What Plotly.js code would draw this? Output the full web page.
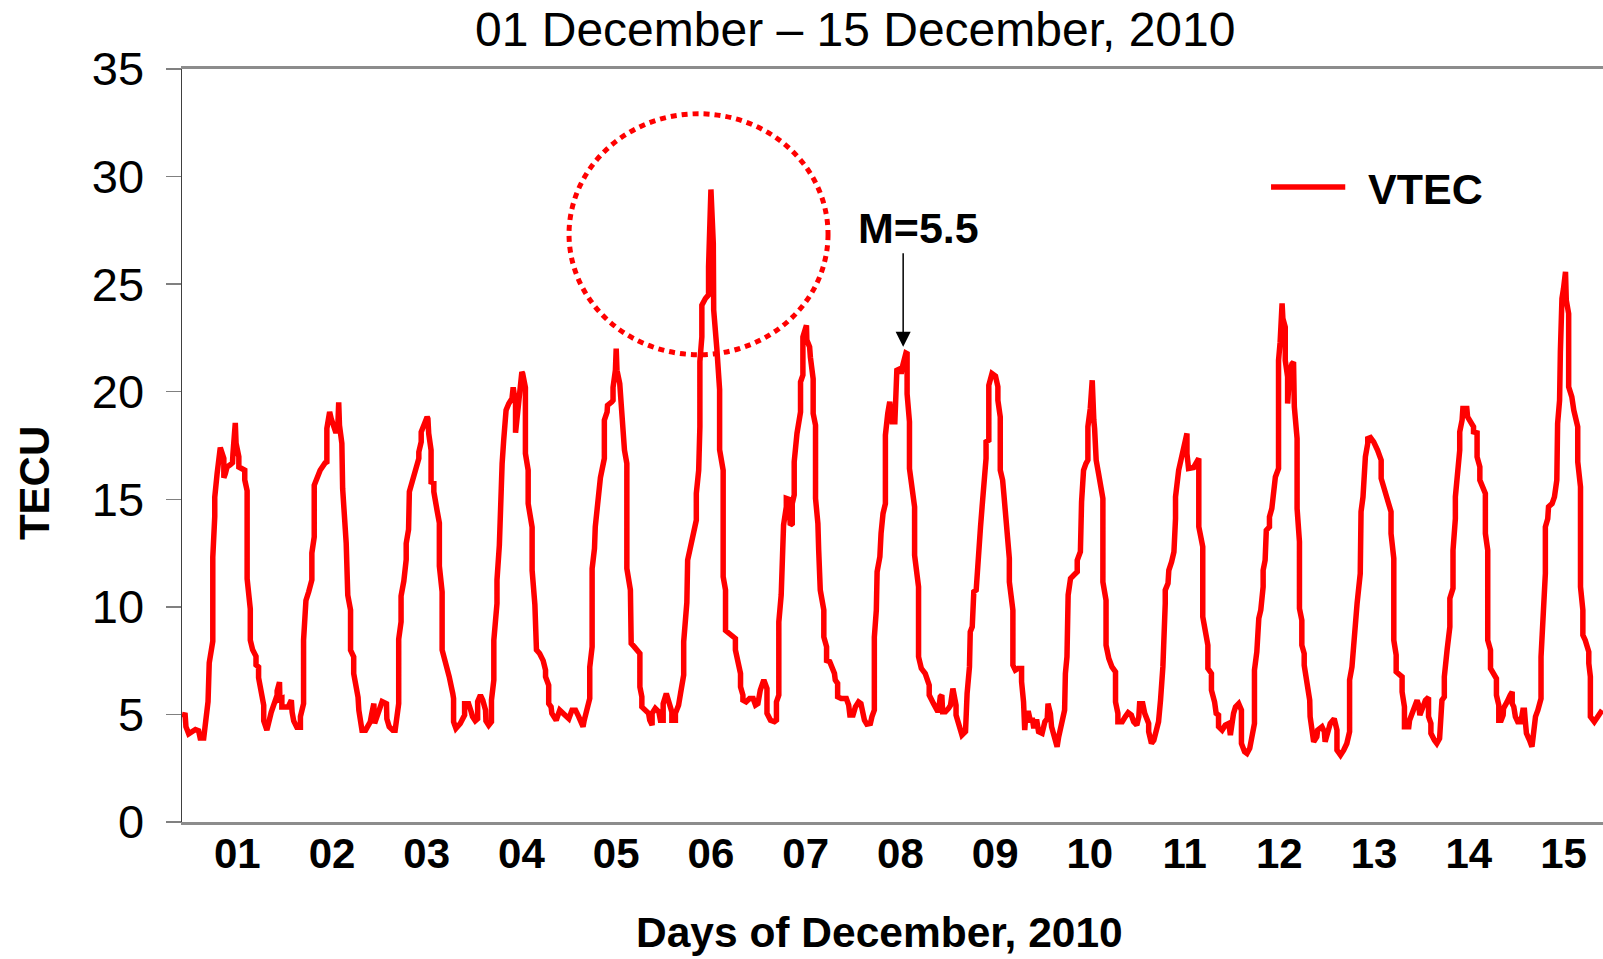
<!DOCTYPE html>
<html>
<head>
<meta charset="utf-8">
<script src="https://cdn.plot.ly/plotly-3.0.1.min.js"></script>
<style>
  html, body { margin: 0; padding: 0; background: #ffffff; }
  #chart { width: 1603px; height: 959px; }
</style>
</head>
<body>
<div id="chart"></div>
<script>
// Hours since 00 UT, 01 December 2010
const hours = [
  0, 0.8, 1.0, 1.7, 3.4, 4.2, 4.6, 5.5, 6.6, 6.9, 7.8, 7.8, 8.3, 8.3, 8.9, 9.5, 9.7, 10.6, 10.6, 11.0,
  11.4, 12.2, 12.8, 12.9, 13.5, 13.7, 14.4, 14.4, 15.2, 15.9, 15.9, 16.5, 16.5, 17.3, 17.3, 17.9, 18.75, 18.75, 19.4, 19.4,
  20.7, 20.7, 21.5, 22.0, 22.6, 22.6, 24.1, 24.1, 24.7, 24.8, 25.3, 25.3, 26.9, 27.7, 27.9, 28.3, 29.1, 30.0, 30.0, 30.8,
  30.8, 31.3, 31.4, 32.1, 32.9, 32.9, 33.5, 33.5, 34.2, 35.0, 36.3, 36.7, 36.7, 37.4, 37.8, 38.7, 39.0, 39.5, 39.7, 39.9,
  40.5, 40.7, 41.6, 42.0, 42.7, 42.7, 43.5, 43.5, 44.6, 44.8, 45.2, 45.6, 46.5, 47.7, 48.1, 48.6, 48.8, 49.0, 50.0, 50.7,
  51.8, 51.9, 52.5, 53.4, 54.0, 54.2, 54.9, 54.9, 55.5, 55.5, 56.2, 56.8, 56.8, 57.4, 57.6, 58.3, 59.1, 60.0, 60.0, 60.6,
  60.6, 61.2, 62.1, 62.3, 62.5, 63.1, 63.1, 63.8, 63.8, 64.6, 65.2, 65.2, 65.9, 65.9, 66.7, 67.7, 68.6, 68.8, 68.8, 69.4,
  70.5, 71.6, 71.6, 72.6, 73.3, 73.6, 74.3, 74.9, 74.9, 75.6, 76.2, 76.9, 77.0, 77.7, 78.4, 78.4, 79.0, 79.0, 79.8, 79.8,
  80.4, 80.7, 81.1, 81.5, 82.1, 82.1, 82.8, 83.2, 83.6, 83.9, 84.5, 84.5, 84.9, 85.5, 86.0, 86.1, 86.3, 87.0, 87.0, 87.7,
  87.7, 88.7, 88.7, 89.4, 89.8,
  90.6, 91.5, 92.1, 92.1, 92.9, 92.9, 93.5, 93.7, 94.8, 95.7, 96.7, 98.0, 98.8, 99.7, 100.5, 100.9, 101.6, 101.9, 103.3, 103.3,
  103.9, 103.9, 104.5, 104.7, 105.3, 106.0, 107.0, 107.0, 107.7, 107.8, 108.9, 109.2, 109.2, 109.8, 110.0, 110.2, 110.9, 111.2, 111.5, 112.1,
  112.1, 112.7, 112.7, 113.6, 113.8, 114.6, 115.3, 116.0, 116.0, 116.5, 116.5, 117.6, 118.2, 118.5, 119.1, 119.1, 119.9, 120.8, 121.2, 121.9,
  121.9, 122.7, 123.3, 124.1, 124.1, 125.0, 125.0, 125.8, 126.3, 127.1, 127.1, 127.5, 127.9, 128.1, 128.8, 129.5, 130.3, 130.3, 130.9, 131.2,
  131.2, 131.7, 131.7, 132.6, 133.4, 133.4, 134.0, 134.6, 134.7, 135.5, 136.2, 136.2, 137.1, 137.1, 137.7, 137.7, 138.8, 140.2, 140.2, 140.8,
  141.5, 141.5, 142.1, 142.1, 142.9, 143.8, 144.7, 145.3, 145.9, 146.5, 147.4, 148.2, 148.2, 149.1, 150.1, 150.6, 150.6, 151.2, 151.2, 151.8,
  152.3, 152.4, 153.1, 153.1, 153.7, 154.1, 154.6, 154.6, 155.1, 155.1, 155.8, 156.7, 156.7, 157.3, 157.3, 157.9, 158.2, 158.3, 159.0, 159.2,
  159.9, 159.9, 160.5, 160.5, 161.1, 161.3, 161.7, 162.6, 162.6, 163.3, 163.3, 164.1, 164.7, 165.3, 165.5, 166.1, 166.1, 167.0, 168.3, 168.9,
  169.2, 170.0, 170.6, 171.4, 172.0, 172.5, 172.9, 173.5, 174.4, 174.8, 175.4, 175.4, 175.9, 176.1, 176.8, 177.1, 177.4, 177.6, 178.2, 178.2,
  178.8, 179.0, 179.3, 179.6, 179.9,
  180.6, 180.7, 181.1, 181.1, 182.0, 182.2, 182.6, 183.4, 183.7, 183.7, 184.3, 184.3, 185.0, 185.6, 185.6, 186.6, 186.6, 187.3, 188.3, 188.8,
  189.3, 189.3, 190.2, 190.4, 191.3, 191.7, 192.1, 192.5, 192.7, 193.4, 194.2, 194.7, 195.3, 195.8, 196.1, 196.1, 196.8, 197.2, 197.6, 198.5,
  198.6, 198.9, 199.5, 199.7, 200.2, 200.6, 200.6, 201.2, 201.7, 202.3, 202.7, 203.4, 203.7, 203.7, 204.4, 204.4, 205.0, 205.2, 206.1, 206.7,
  206.7, 207.3, 207.3, 207.9, 208.2, 209.0, 209.6, 209.6, 210.5, 210.5, 211.1, 211.8, 212.7, 212.7, 213.2, 213.5, 213.8, 214.5, 214.9, 215.5,
  215.8, 216.0, 216.6, 217.0, 217.9, 218.6, 219.2, 219.4, 220.0, 220.3, 221.3, 221.7, 222.1, 222.5, 223.1, 223.6, 223.8, 224.2, 224.5, 225.1,
  225.9, 226.8, 226.8, 227.6, 227.9, 228.2, 228.4, 229.0, 229.5, 229.5, 230.1, 230.6, 230.7, 231.0, 231.2, 231.6, 231.6, 232.2, 232.7, 233.3,
  233.3, 234.1, 234.1, 234.8, 235.6, 236.5, 236.5, 237.1, 237.1, 238.2, 239.0, 239.7, 240.5, 241.1, 241.9, 242.4, 242.6, 243.4, 243.9, 244.5,
  244.9, 244.9, 245.6, 246.2, 246.6, 247.4, 247.9, 248.3, 248.5, 249.1, 249.1, 249.8, 250.0, 250.7, 251.3, 251.7, 251.7, 252.5, 253.4, 254.2,
  254.6, 254.6, 255.0, 255.0, 256.3, 256.7, 257.6, 257.6, 258.6, 258.6, 259.4, 259.9, 259.9, 260.8, 260.8, 261.6, 262.0, 262.6, 262.6, 263.5,
  264.3, 265.2, 265.6, 266.0, 266.4, 266.9, 267.7, 268.4, 268.4, 269.2,
  269.8, 270.5, 271.1, 271.7, 271.7, 272.3, 272.8, 273.3, 273.9, 273.9, 274.4, 274.7, 275.5, 275.5, 276.1, 276.7, 277.0, 277.8, 277.8, 278.2,
  278.4, 278.7, 278.9, 279.5, 279.5, 280.1, 280.1, 280.6, 281.2, 281.6, 281.8, 282.5, 282.5, 283.1, 283.1, 283.7, 283.7, 284.3, 284.3, 285.0,
  285.7, 285.8, 286.3, 286.7, 287.5, 287.7, 288.8, 289.4, 289.6, 290.1, 290.9, 291.9, 292.6, 292.6, 293.5, 294.3, 295.1, 295.8, 295.8, 296.4,
  296.7, 297.7, 298.5, 298.7, 298.7, 299.2, 299.5, 299.8, 300.4, 300.4, 301.1, 301.9, 302.9, 303.8, 303.8, 304.6, 305.7, 306.3, 306.3, 307.0,
  307.0, 307.6, 307.6, 308.5, 309.1, 309.1, 309.7, 309.7, 310.8, 311.0, 311.6, 312.0, 312.5, 312.9, 313.3, 313.6, 314.4, 315.0, 315.8, 315.8,
  316.4, 316.4, 317.3, 317.9, 318.6, 318.8, 319.2, 319.8, 319.8, 320.5, 321.2, 321.2, 322.0, 322.0, 322.6, 322.6, 323.2, 323.7, 323.7, 324.3,
  324.5, 325.5, 325.7, 326.6, 327.2, 327.2, 328.1, 328.1, 328.8, 328.8, 329.6, 330.2, 330.2, 330.8, 330.8, 331.5, 331.5, 332.3, 333.0, 333.0,
  333.6, 333.6, 334.2, 334.7, 334.8, 335.7, 336.1, 336.5, 337.0, 337.0, 337.4, 337.8, 338.4, 339.2, 339.7, 340.1, 340.3, 340.6, 341.4, 342.0,
  342.3, 342.6, 342.9, 343.5, 344.3, 344.3, 344.8, 345.0, 345.4, 345.4, 346.0, 346.2, 347.1, 347.7, 348.3, 348.5, 349.0, 349.2, 349.4, 349.6,
  350.0, 350.5, 350.7, 351.3, 351.3, 352.1, 352.6, 353.0, 353.6, 353.6, 354.3, 354.3, 354.9, 354.9, 355.5, 356.4, 356.4, 356.8, 356.8, 357.8,
  358.9, 359.8
];

// Vertical total electron content (TECU)
const vtec = [
  5.0, 4.97, 4.43, 4.1, 4.3, 4.24, 3.9, 3.9, 5.6, 7.4, 8.4, 12.3, 14.2, 15.1, 16.2, 16.9, 17.4, 16.9, 16.0, 16.2,
  16.5, 16.6, 16.7, 17.1, 18.55, 17.6, 16.97, 16.5, 16.4, 16.35, 15.9, 15.4, 11.3, 9.9, 8.45, 8.0, 7.7, 7.3, 7.2, 6.7,
  5.43, 4.7, 4.27, 4.66, 4.9, 5.1, 5.9, 6.1, 6.5, 5.7, 5.74, 5.35, 5.35, 5.66, 5.1, 4.7, 4.4, 4.4, 4.9, 5.5,
  8.45, 9.85, 10.3, 10.7, 11.25, 12.5, 13.25, 15.65, 16.0, 16.35, 16.7, 16.74, 18.29, 19.06, 18.75, 18.13, 18.09, 18.5, 19.5, 18.44,
  17.6, 15.5, 12.95, 10.54, 9.85, 7.99, 7.68, 6.9, 5.8, 5.2, 4.7, 4.27, 4.27, 4.66, 5.05, 5.5, 4.58, 4.7, 5.2, 5.6,
  5.5, 4.8, 4.43, 4.27, 4.27, 4.7, 5.5, 8.5, 9.3, 10.5, 11.2, 12.2, 12.95, 13.6, 15.35, 15.8, 16.35, 16.9, 17.2, 17.67,
  18.13, 18.44, 18.83, 18.75, 18.06, 17.28, 15.8, 15.76, 15.35, 14.5, 13.9, 11.9, 10.7, 8.0, 7.5, 6.75, 5.97, 5.74, 4.66, 4.35,
  4.58, 4.97, 5.5, 5.5, 5.1, 4.9, 4.7, 4.8, 5.6, 5.9, 5.66, 5.2, 4.7, 4.5, 4.66, 5.66, 6.6, 8.45, 10.16, 11.25,
  12.87, 15.4, 16.66, 17.75, 18.75, 19.14, 19.45, 19.6, 19.68, 20.2, 19.45, 18.09, 18.9, 20.2, 20.7, 20.92, 20.85, 20.2, 17.13, 16.35,
  14.8, 13.7, 11.7, 10.1, 8.0,
  7.83, 7.5, 7.06, 6.75, 6.36, 5.5, 5.35, 5.05, 4.73, 5.2, 5.05, 4.8, 5.2, 5.2, 4.9, 4.66, 4.43, 4.73, 5.74, 7.2,
  8.14, 11.78, 12.71, 13.72, 14.8, 16.0, 16.9, 18.68, 19.06, 19.37, 19.53, 19.6, 20.2, 21.0, 22.0, 21.0, 20.38, 19.6, 18.6, 17.8,
  17.28, 16.66, 11.78, 10.78, 8.3, 8.14, 8.02, 7.83, 6.28, 5.82, 5.35, 5.2, 5.05, 4.73, 4.5, 5.05, 5.28, 5.12, 4.73, 4.73,
  5.5, 5.97, 5.5, 5.12, 4.73, 4.73, 5.05, 5.43, 5.97, 6.83, 8.38, 9.38, 10.2, 12.17, 12.79, 13.41, 14.03, 15.27, 16.35, 18.37,
  21.4, 22.55, 24.02, 24.33, 24.5, 25.8, 29.4, 26.9, 23.8, 22.0, 20.1, 17.3, 16.35, 11.4, 10.78, 8.9, 8.77, 8.53, 8.0, 7.37,
  6.9, 6.28, 5.9, 5.66, 5.58, 5.74, 5.74, 5.43, 5.5, 6.13, 6.6, 6.2, 5.05, 4.73, 4.66, 4.73, 5.58, 5.9, 9.3, 10.55,
  12.63, 13.8, 14.65, 15.04, 15.0, 13.8, 13.87, 14.8, 15.2, 16.74, 18.06, 19.06, 20.45, 20.77, 22.55, 22.98, 23.09, 22.4, 22.08, 21.6,
  20.6, 18.99, 18.44, 15.04, 13.87, 12.63, 10.78, 9.85, 8.6, 8.14, 7.5, 7.45, 7.14, 6.9, 6.6, 6.44, 5.82, 5.74, 5.74, 5.43,
  4.97, 4.97, 5.35, 5.58, 5.5, 5.12, 4.73, 4.55, 4.58, 4.9, 5.2, 8.6, 9.85, 11.63, 12.33, 13.41, 14.18, 14.34, 14.8, 17.98,
  18.99, 19.45, 19.53, 18.99, 18.6,
  18.6, 19.76, 20.38, 21.0, 21.08, 20.84, 21.23, 21.8, 21.77, 19.9, 18.6, 16.43, 15.58, 14.65, 12.4, 10.93, 7.68, 7.14, 6.9, 6.52,
  6.36, 5.9, 5.66, 5.5, 5.2, 5.2, 5.82, 5.9, 5.12, 5.12, 5.28, 5.43, 6.2, 5.82, 5.43, 4.97, 4.58, 4.27, 4.04, 4.2,
  5.2, 5.97, 7.21, 8.84, 9.07, 10.24, 10.7, 10.78, 12.56, 13.72, 14.65, 16.0, 16.9, 17.67, 17.75, 20.3, 20.69, 20.84, 20.72, 20.23,
  19.6, 18.83, 16.35, 15.89, 15.27, 13.57, 12.25, 11.16, 9.85, 7.29, 7.06, 7.14, 7.14, 6.52, 5.58, 4.27, 5.05, 5.05, 4.73, 4.73,
  4.35, 4.66, 4.66, 4.2, 4.12, 4.66, 4.8, 5.5, 5.05, 4.43, 3.88, 3.5, 3.96, 4.27, 4.8, 5.2, 6.9, 7.68, 10.55, 11.32,
  11.47, 11.63, 12.17, 12.56, 14.88, 15.89, 16.35, 16.66, 16.82, 18.37, 19.22, 20.53, 19.3, 18.68, 18.29, 17.13, 16.82, 16.2, 15.58, 15.04,
  11.16, 10.31, 8.22, 7.6, 7.21, 6.98, 5.58, 5.05, 4.66, 4.66, 4.9, 5.08, 4.97, 4.66, 4.5, 4.9, 5.5, 5.5, 5.05, 4.8,
  4.58, 4.2, 3.65, 3.8, 4.2, 4.66, 5.66, 6.44, 7.21, 10.16, 10.78, 11.09, 11.7, 12.09, 12.56, 14.1, 15.11, 16.35, 17.13, 17.67,
  18.06, 17.13, 16.66, 16.43, 16.48, 16.66, 16.9, 13.72, 12.79, 9.54, 8.45, 8.22, 7.14, 6.9, 6.13, 5.58, 5.05, 4.97, 4.43, 4.27,
  4.5, 4.58, 4.04, 4.66, 5.05, 5.35, 5.5, 5.2, 3.65, 3.27,
  3.19, 3.42, 3.96, 4.58, 7.06, 7.91, 9.46, 9.85, 10.93, 11.7, 12.17, 13.56, 13.72, 14.18, 14.57, 15.58, 16.04, 16.43, 21.46, 22.3,
  24.1, 24.1, 23.4, 23.0, 21.46, 20.69, 19.45, 20.84, 21.3, 21.38, 19.3, 17.82, 14.57, 13.02, 9.92, 9.38, 8.22, 7.83, 7.29, 6.44,
  5.66, 4.9, 4.27, 3.73, 3.96, 4.27, 4.43, 4.2, 3.73, 4.12, 4.58, 4.8, 4.27, 3.34, 3.11, 3.34, 3.65, 4.2, 6.6, 7.21,
  8.07, 10.16, 11.55, 13.02, 14.42, 15.11, 15.89, 16.97, 17.6, 17.82, 17.87, 17.67, 17.28, 16.82, 15.97, 15.5, 14.8, 14.42, 13.41, 12.25,
  8.45, 7.76, 6.98, 6.83, 6.75, 6.05, 5.35, 4.43, 4.43, 4.73, 5.05, 5.35, 5.43, 5.66, 5.43, 4.97, 5.35, 5.66, 5.79, 4.9,
  4.58, 4.12, 3.8, 3.65, 3.88, 4.9, 5.66, 5.82, 6.75, 7.99, 9.07, 10.39, 10.86, 12.63, 14.1, 15.11, 16.35, 17.28, 18.13, 18.68,
  19.22, 19.22, 18.83, 18.55, 18.37, 18.13, 18.09, 16.97, 16.51, 15.89, 15.58, 15.27, 13.41, 12.63, 8.45, 7.99, 7.14, 6.9, 6.67, 5.9,
  5.43, 4.73, 4.73, 4.97, 5.28, 5.58, 5.82, 5.9, 6.05, 5.5, 5.35, 4.9, 4.66, 4.66, 5.2, 5.2, 4.73, 4.12, 3.8, 3.5,
  3.96, 4.43, 4.9, 5.2, 5.74, 7.68, 9.3, 10.16, 11.55, 13.72, 14.1, 14.65, 14.8, 15.11, 15.89, 18.52, 19.6, 21.85, 23.48, 24.33,
  24.8, 25.57, 24.25, 23.63, 20.23, 19.76, 19.14, 18.68, 18.37, 16.74, 15.58, 10.93, 9.85, 8.69, 8.45, 7.91, 7.37, 6.75, 4.9, 4.66,
  4.97, 5.2
];

const dayLabels = ['01','02','03','04','05','06','07','08','09','10','11','12','13','14','15'];
const yTicks = [0, 5, 10, 15, 20, 25, 30, 35];

const FONT = 'Liberation Sans, Arial, Helvetica, sans-serif';
const tickPositions = dayLabels.map((d, i) => 14 + 24 * i);

const trace = {
  type: 'scatter',
  mode: 'lines',
  x: hours,
  y: vtec,
  name: 'VTEC',
  line: { color: '#ff0000', width: 5.5 },
  showlegend: false,
  hoverinfo: 'skip'
};

const layout = {
  width: 1603,
  height: 959,
  margin: { l: 182, r: 0, t: 69, b: 137 },
  paper_bgcolor: '#ffffff',
  plot_bgcolor: '#ffffff',
  showlegend: false,
  font: { family: FONT, color: '#000000' },
  xaxis: {
    range: [0, 360],
    showgrid: false,
    zeroline: false,
    showline: true,
    linecolor: '#8c8c8c',
    linewidth: 3,
    mirror: true,
    ticks: '',
    tickmode: 'array',
    tickvals: tickPositions,
    ticktext: dayLabels,
    tickfont: { family: FONT, size: 42, weight: 'bold', color: '#000000' },
    ticklabelstandoff: -7
  },
  yaxis: {
    range: [0, 35],
    showgrid: false,
    zeroline: false,
    showline: true,
    linecolor: '#404040',
    linewidth: 1.5,
    ticks: 'outside',
    ticklen: 15,
    tickwidth: 1.5,
    tickcolor: '#808080',
    tickmode: 'array',
    tickvals: yTicks,
    ticktext: yTicks.map(String),
    tickfont: { family: FONT, size: 47, color: '#000000' },
    ticklabelstandoff: 12
  },
  shapes: [
    {
      type: 'circle', xref: 'x', yref: 'y',
      x0: 98.05, x1: 163.67, y0: 21.72, y1: 32.92,
      line: { color: '#ff0000', width: 5, dash: '6px,5px' }
    },
    {
      type: 'line', xref: 'x', yref: 'y',
      x0: 275.9, x1: 294.7, y0: 29.52, y1: 29.52,
      line: { color: '#ff0000', width: 5.5 }
    }
  ],
  annotations: [
    {
      text: '01 December \u2013 15 December, 2010',
      xref: 'paper', yref: 'paper', x: 0.4736, y: 1.053,
      xanchor: 'center', yanchor: 'middle', showarrow: false,
      font: { family: FONT, size: 48, color: '#000000' }
    },
    {
      text: 'Days of December, 2010',
      xref: 'paper', yref: 'paper', x: 0.4912, y: -0.1474,
      xanchor: 'center', yanchor: 'middle', showarrow: false,
      font: { family: FONT, size: 42.5, weight: 'bold', color: '#000000' }
    },
    {
      text: 'TECU',
      xref: 'paper', yref: 'paper', x: -0.1042, y: 0.450,
      xanchor: 'center', yanchor: 'middle', showarrow: false, textangle: -90,
      font: { family: FONT, size: 42, weight: 'bold', color: '#000000' }
    },
    {
      text: 'VTEC',
      xref: 'x', yref: 'y', x: 300.0, y: 29.41,
      xanchor: 'left', yanchor: 'middle', showarrow: false,
      font: { family: FONT, size: 43, weight: 'bold', color: '#000000' }
    },
    {
      text: 'M=5.5',
      xref: 'x', yref: 'y', x: 186.5, y: 27.63,
      xanchor: 'center', yanchor: 'middle', showarrow: false,
      font: { family: FONT, size: 43, weight: 'bold', color: '#000000' }
    },
    {
      text: '',
      xref: 'x', yref: 'y', x: 182.7, y: 22.09,
      axref: 'x', ayref: 'y', ax: 182.7, ay: 26.5,
      showarrow: true, arrowhead: 2, arrowsize: 2, arrowwidth: 1.5,
      arrowcolor: '#000000', standoff: 0, startstandoff: 0
    }
  ]
};

Plotly.newPlot('chart', [trace], layout, { staticPlot: true, displayModeBar: false });
</script>
</body>
</html>
